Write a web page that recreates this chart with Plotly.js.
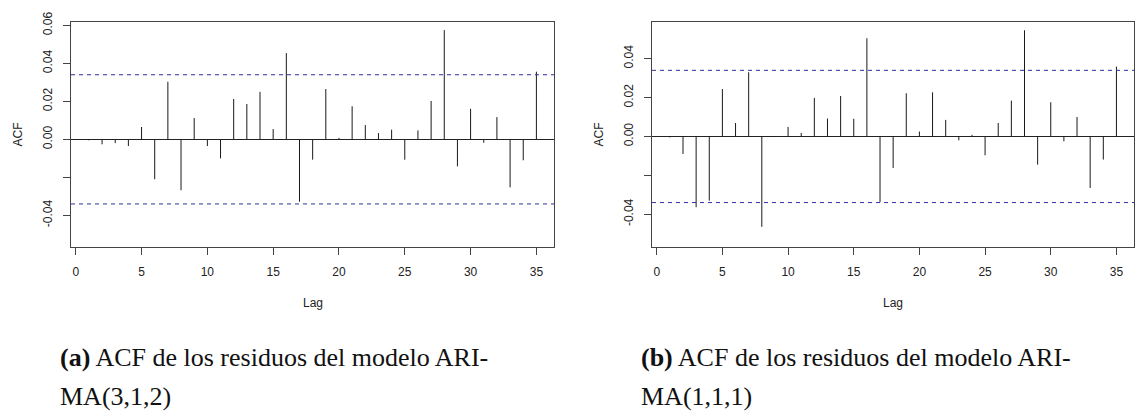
<!DOCTYPE html>
<html>
<head>
<meta charset="utf-8">
<script src="https://cdn.plot.ly/plotly-3.0.1.min.js"></script>
<style>html,body{margin:0;padding:0;background:#fff;}#chart{width:1136px;height:412px;}</style>
</head>
<body>
<div id="chart"></div>
<script>
// Lags shown (lag 0 omitted)
var lags = [1,2,3,4,5,6,7,8,9,10,11,12,13,14,15,16,17,18,19,20,21,22,23,24,25,26,27,28,29,30,31,32,33,34,35];

// (a) ACF of ARIMA(3,1,2) residuals
var acfA = [-0.0005,-0.0026,-0.0020,-0.0035,0.0065,-0.0210,0.0303,-0.0268,0.0112,-0.0035,
            -0.0100,0.0212,0.0186,0.0250,0.0054,0.0454,-0.0328,-0.0107,0.0265,0.0008,
            0.0174,0.0075,0.0033,0.0051,-0.0107,0.0047,0.0202,0.0575,-0.0142,0.0161,
            -0.0018,0.0117,-0.0253,-0.0110,0.0356];

// (b) ACF of ARIMA(1,1,1) residuals
var acfB = [-0.0005,-0.0090,-0.0364,-0.0330,0.0244,0.0069,0.0330,-0.0465,-0.0003,0.0049,
            0.0018,0.0198,0.0092,0.0208,0.0091,0.0505,-0.0338,-0.0162,0.0222,0.0025,
            0.0227,0.0085,-0.0020,0.0008,-0.0097,0.0069,0.0184,0.0546,-0.0145,0.0176,
            -0.0025,0.0100,-0.0265,-0.0119,0.0359];

// Confidence bound (±)
var climA = 0.034;
var climB = 0.034;

var xTickVals = [0,5,10,15,20,25,30,35];
var xTickText = ["0","5","10","15","20","25","30","35"];
var yTickValsA = [-0.04,-0.02,0,0.02,0.04,0.06];
var yTickTextA = ["-0.04","","0.00","0.02","0.04","0.06"];
var yTickValsB = [-0.04,-0.02,0,0.02,0.04];
var yTickTextB = ["-0.04","","0.00","0.02","0.04"];

var captionA = ["<b>(a)</b> ACF de los residuos del modelo ARI-", "MA(3,1,2)"];
var captionB = ["<b>(b)</b> ACF de los residuos del modelo ARI-", "MA(1,1,1)"];

function stems(xs, ys) {
  var x = [], y = [];
  for (var i = 0; i < xs.length; i++) {
    x.push(xs[i], xs[i], null);
    y.push(0, ys[i], null);
  }
  return {x: x, y: y};
}

var sA = stems(lags, acfA);
var sB = stems(lags, acfB);

var traces = [
  {x: sA.x, y: sA.y, xaxis: 'x', yaxis: 'y', mode: 'lines', type: 'scatter',
   line: {color: '#1a1a1a', width: 1}, hoverinfo: 'skip', showlegend: false},
  {x: sB.x, y: sB.y, xaxis: 'x2', yaxis: 'y2', mode: 'lines', type: 'scatter',
   line: {color: '#1a1a1a', width: 1}, hoverinfo: 'skip', showlegend: false}
];

var W = 1136, H = 412;
function px(v) { return v / W; }
function py(v) { return 1 - v / H; }

var tickFont = {family: 'Liberation Sans, Arial, sans-serif', size: 12, color: '#222'};
var axisCommon = {
  showline: true, mirror: true, linecolor: '#444', linewidth: 1,
  ticks: 'outside', ticklen: 7, tickcolor: '#444', tickwidth: 1,
  showgrid: false, tickfont: tickFont, fixedrange: true
};

function xaxis(domain) {
  return Object.assign({}, axisCommon, {
    domain: domain, range: [-0.36, 36.36], zeroline: false,
    tickmode: 'array', tickvals: xTickVals, ticktext: xTickText,
    ticklabelstandoff: 7
  });
}
function yaxis(domain, range, tv, tt, anchor) {
  return Object.assign({}, axisCommon, {
    domain: domain, range: range, anchor: anchor,
    zeroline: true, zerolinecolor: '#222', zerolinewidth: 1,
    tickmode: 'array', tickvals: tv, ticktext: tt,
    tickangle: -90, ticklabelstandoff: 6
  });
}

var yDom = [py(246.7), py(22.3)];
var dashCol = 'rgb(48,48,165)';
var capFont = {family: 'Liberation Serif, Times New Roman, serif', size: 26, color: '#111'};

var layout = {
  width: W, height: H,
  margin: {l: 0, r: 0, t: 0, b: 0},
  paper_bgcolor: '#fff', plot_bgcolor: '#fff',
  showlegend: false,
  xaxis: Object.assign(xaxis([px(71), px(554.3)]), {anchor: 'y'}),
  yaxis: yaxis(yDom, [-0.0565, 0.0616], yTickValsA, yTickTextA, 'x'),
  xaxis2: Object.assign(xaxis([px(652), px(1134.3)]), {anchor: 'y2'}),
  yaxis2: yaxis(yDom, [-0.0567, 0.0587], yTickValsB, yTickTextB, 'x2'),
  shapes: [
    {type: 'line', xref: 'x domain', yref: 'y', x0: 0, x1: 1, y0: climA, y1: climA,
     line: {color: dashCol, width: 1, dash: '4px,4px'}},
    {type: 'line', xref: 'x domain', yref: 'y', x0: 0, x1: 1, y0: -climA, y1: -climA,
     line: {color: dashCol, width: 1, dash: '4px,4px'}},
    {type: 'line', xref: 'x2 domain', yref: 'y2', x0: 0, x1: 1, y0: climB, y1: climB,
     line: {color: dashCol, width: 1, dash: '4px,4px'}},
    {type: 'line', xref: 'x2 domain', yref: 'y2', x0: 0, x1: 1, y0: -climB, y1: -climB,
     line: {color: dashCol, width: 1, dash: '4px,4px'}}
  ],
  annotations: [
    {text: 'ACF', xref: 'paper', yref: 'paper', x: px(17), y: py(134.5), textangle: -90,
     showarrow: false, xanchor: 'center', yanchor: 'middle', font: tickFont},
    {text: 'Lag', xref: 'paper', yref: 'paper', x: px(312.6), y: py(303),
     showarrow: false, xanchor: 'center', yanchor: 'middle', font: tickFont},
    {text: 'ACF', xref: 'paper', yref: 'paper', x: px(598), y: py(134.5), textangle: -90,
     showarrow: false, xanchor: 'center', yanchor: 'middle', font: tickFont},
    {text: 'Lag', xref: 'paper', yref: 'paper', x: px(893), y: py(303),
     showarrow: false, xanchor: 'center', yanchor: 'middle', font: tickFont},
    {text: captionA[0], xref: 'paper', yref: 'paper', x: px(58), y: py(357),
     showarrow: false, xanchor: 'left', yanchor: 'middle', font: capFont},
    {text: captionA[1], xref: 'paper', yref: 'paper', x: px(58), y: py(396),
     showarrow: false, xanchor: 'left', yanchor: 'middle', font: capFont},
    {text: captionB[0], xref: 'paper', yref: 'paper', x: px(639), y: py(357),
     showarrow: false, xanchor: 'left', yanchor: 'middle', font: capFont},
    {text: captionB[1], xref: 'paper', yref: 'paper', x: px(639), y: py(396),
     showarrow: false, xanchor: 'left', yanchor: 'middle', font: capFont}
  ]
};

Plotly.newPlot('chart', traces, layout, {displayModeBar: false, staticPlot: true});
</script>
</body>
</html>
